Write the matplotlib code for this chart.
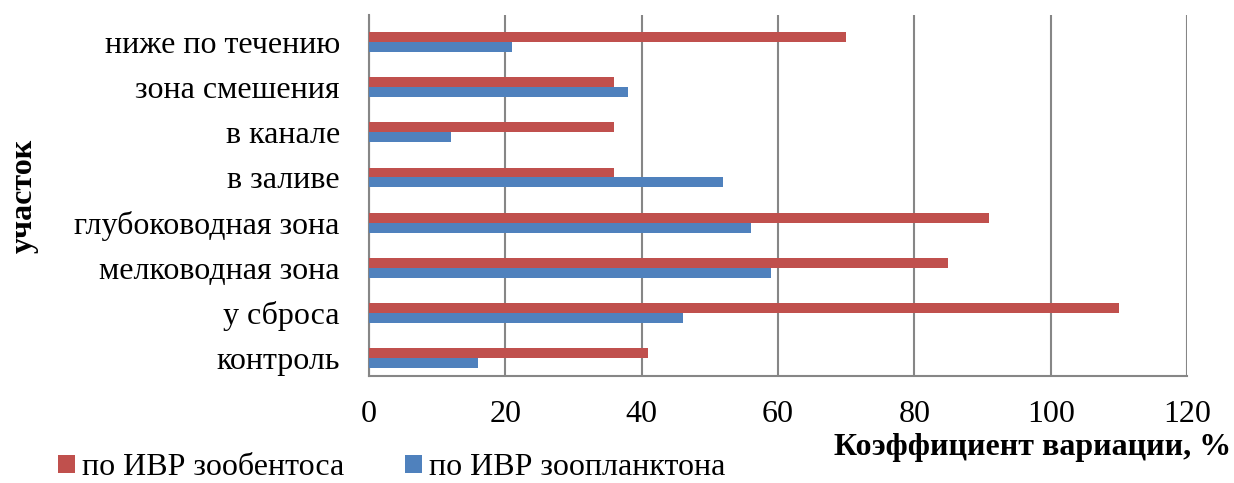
import numpy as np
import matplotlib
matplotlib.use('Agg')
import matplotlib.pyplot as plt

plt.rcParams['font.family'] = ['Liberation Serif', 'DejaVu Serif']

# участки снизу вверх
sites = ['контроль', 'у сброса', 'мелководная зона', 'глубоководная зона',
         'в заливе', 'в канале', 'зона смешения', 'ниже по течению']
zoobenthos = [41, 110, 85, 91, 36, 36, 36, 70]
zooplankton = [16, 46, 59, 56, 52, 12, 38, 21]
xticks = [0, 20, 40, 60, 80, 100, 120]

red = '#C0504D'
blue = '#4F81BD'
grid_col = '#868686'
fs = 23

fig = plt.figure(figsize=(12.34, 4.83), dpi=100)
ax = fig.add_axes([0.299, 0.2215, 0.663, 0.7475])

y = np.arange(len(sites))
h = 0.22
ax.barh(y + h / 2, zoobenthos, height=h, color=red, label='по ИВР зообентоса', zorder=3)
ax.barh(y - h / 2, zooplankton, height=h, color=blue, label='по ИВР зоопланктона', zorder=3)

ax.set_xlim(0, 120)
ax.set_ylim(-0.4, 7.6)
ax.set_xticks(xticks)
ax.set_xticklabels([str(t) for t in xticks], fontsize=fs)
ax.set_yticks(y)
ax.set_yticklabels(sites, fontsize=fs)
ax.tick_params(axis='both', length=0)
ax.tick_params(axis='y', pad=21)
ax.tick_params(axis='x', pad=17)

ax.grid(axis='x', color=grid_col, linewidth=1.5, zorder=0)
for s in ['top', 'right']:
    ax.spines[s].set_visible(False)
for s in ['left', 'bottom']:
    ax.spines[s].set_color(grid_col)
    ax.spines[s].set_linewidth(1.5)

fig.text(0.998, 0.074, 'Коэффициент вариации, %', ha='right', va='center',
         fontsize=fs, fontweight='bold')
fig.text(0.020, 0.594, 'участок', ha='center', va='center', rotation=90,
         fontsize=fs, fontweight='bold')

fig.legend(loc='lower left', bbox_to_anchor=(0.047, 0.002), ncol=2, frameon=False,
           fontsize=fs, handlelength=0.53, handleheight=0.5, handletextpad=0.22,
           columnspacing=1.9, borderpad=0, borderaxespad=0)

fig.savefig('out.png', dpi=100)
